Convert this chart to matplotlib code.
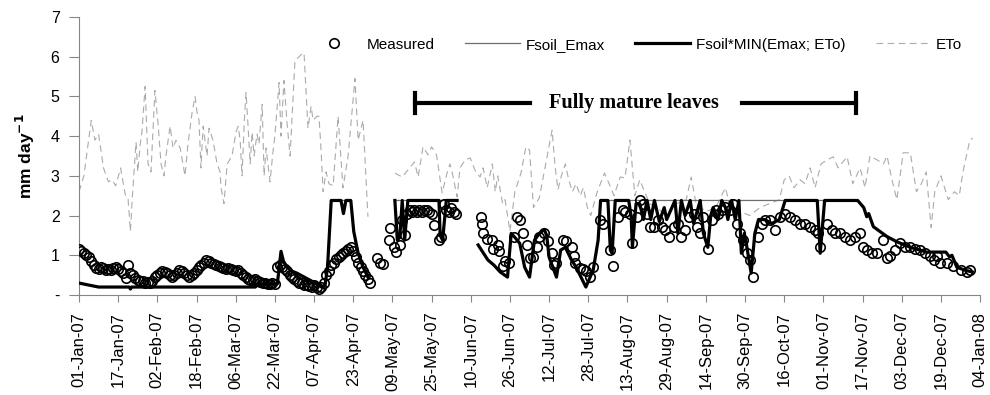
import numpy as np
import matplotlib
matplotlib.use('Agg')
import matplotlib.pyplot as plt
import matplotlib.dates as mdates
from matplotlib.ticker import FuncFormatter

plt.rcParams['font.family'] = ['Liberation Sans', 'DejaVu Sans']

nan = np.nan

# days counted from 01-Jan-07
eto_days = [0, 2, 5, 6.5, 8, 10, 12, 13.5, 15, 17, 17.5, 19, 20, 21, 21.7, 23.3, 24, 25, 25.7, 27,
            28.2, 29.4, 31, 32.3, 33.5, 34.7, 35.5, 37.2, 38.4, 39.6, 41.3, 43.3, 44.5, 46.2, 47.4, 48.2,
            49, 49.8, 50.7, 52.3, 53.1, 54.7, 56.4, 57.6, 58, 59.2, 60.5, 62.5, 64.1, 65, 65.8, 66.6,
            67.4, 68.2, 69, 69.9, 70.7, 71.5, 72.7, 73.5, 74.8, 75.6, 76.4, 78, 79.2, 80, 81.7, 82.5,
            83.7, 85, 86.2, 88.2, 90.7, 91.9, 93.5, 94.8, 95.6, 97.2, 98, 98.9, 99.7, 100.9, 102.1,
            103.8, 105.8, 107.8, 109.9, 112.7, 114, 116, 118, 123,
            129, 132, 135, 137, 138.5, 140.5, 142.5, 144, 146, 148.3, 150.3, 151.5, 152.7, 154.4,
            155.6, 157.7, 159.8, 162, 163.8, 165, 166.7, 168.8, 170, 171, 173, 174, 176, 178, 180.5,
            182.5, 184, 185.6, 188, 190.6, 193.2, 194.5, 195.6, 197, 198.6, 200, 201.5, 203, 204.7,
            206, 207.6, 209, 211.5, 214.6, 216.5, 218.5, 221, 223, 225, 227, 229, 231, 233, 236, 240,
            244, 248, 250, 252, 256, 260, 264, 266, 270, 274, 278, 282, 286, 288, 290, 292, 294.5,
            296.5, 298.6, 300.6, 303, 305.5, 308, 310, 313.7, 316, 319, 321, 323, 326, 328.5, 330,
            332, 334, 336.6, 339.5, 342, 344, 346, 348, 349.5, 352, 355, 357.5, 359.5, 361, 362.7,
            363.8, 365]
eto_vals = [2.6, 3.0, 4.4, 3.9, 4.05, 3.2, 2.85, 2.9, 2.75, 3.2, 3.0, 2.5, 2.45, 1.6, 2.4, 3.85, 3.1,
            3.8, 4.1, 5.25, 3.3, 3.1, 5.15, 4.3, 3.3, 3.0, 3.5, 4.25, 3.7, 3.9, 3.7, 3.0, 3.8, 4.6, 5.0,
            4.6, 4.4, 3.2, 4.25, 3.5, 4.2, 3.9, 3.3, 3.1, 2.7, 2.3, 3.3, 3.5, 4.1, 4.25, 3.9, 3.0, 4.25,
            5.1, 4.3, 3.3, 4.1, 3.5, 4.05, 3.8, 4.8, 3.0, 3.7, 2.85, 3.6, 4.0, 5.35, 4.0, 5.4, 4.3, 3.5,
            5.9, 6.05, 6.1, 4.2, 4.75, 4.4, 4.5, 4.5, 3.6, 2.6, 3.1, 2.8, 2.75, 4.5, 2.7, 3.5, 5.45,
            3.9, 4.4, 1.97, nan,
            3.07, 2.97, 3.2, 3.35, 2.97, 3.73, 3.53, 3.73, 3.53, 2.57, 3.07, 3.3, 3.0, 2.47,
            3.2, 3.4, 3.45, 3.1, 2.97, 3.2, 2.7, 3.3, 2.6, 3.0, 2.3, 2.4, 1.6, 2.6, 3.07,
            3.73, 3.65, 2.2, 2.45, 3.3, 4.15, 3.2, 2.65, 3.0, 3.3, 2.9, 2.6, 2.8, 2.5,
            2.7, 2.2, 2.0, 2.57, 3.07, 2.8, 2.5, 2.97, 2.95, 3.9, 2.5, 2.9, 2.6, 2.3, 2.2, 2.0,
            2.3, 2.4, 2.97, 2.3, 2.1, 2.2, 2.7, 2.2, 2.1, 2.0, 2.2, 2.3, 2.4, 2.9, 3.0, 2.7, 2.9,
            2.8, 3.2, 2.7, 3.3, 3.4, 3.48, 3.2, 3.48, 2.8, 3.2, 2.7, 3.5, 3.4, 3.3, 3.5,
            2.9, 2.4, 3.58, 3.58, 2.6, 2.8, 3.1, 1.7, 2.6, 3.0, 2.4, 2.6, 2.5, 3.1, 3.58,
            3.9, 3.95]

emax_days = [0, 4, 8, 72, 73, 81, 82.5, 83.5, 85, 87, 89, 92, 95, 98, 99, 100.5, 101.5, 103, 111,
             112.2, 114, 116, 118, 123, 129, 154.4, 159,
             163, 167, 169.5, 172, 175, 176.5, 178, 180, 182, 184, 186, 188, 190, 191, 192, 195,
             196.7, 198.6, 201, 203, 205, 207, 210, 212, 213, 318, 320.5, 321.7, 322.5, 324.4, 330,
             334, 339.5, 343.5, 346, 354, 355.5, 356.5, 358.5, 362, 364.8]
emax_vals = [0.3, 0.25, 0.2, 0.2, 0.27, 0.28, 1.1, 0.85, 0.7, 0.6, 0.55, 0.45, 0.35, 0.25, 0.2, 0.25,
             0.7, 2.38, 2.38, 1.6, 1.05, 0.7, 0.45, nan, 2.38, 2.38, nan,
             1.26, 0.88, 0.75, 0.58, 0.45, 1.55, 1.45, 1.3, 0.7, 0.45, 1.38, 1.55, 1.65, 1.5, 0.95,
             0.45, 1.13, 1.2, 0.9, 0.7, 0.45, 0.2, 0.63, 1.38, 2.38, 2.38, 2.2, 1.97, 2.05, 1.72,
             1.47, 1.34, 1.2, 1.13, 1.08, 1.08, 0.96, 1.0, 0.7, 0.62, 0.58]

fmin_days = [0, 4, 8, 20.5, 21, 21.5, 72, 73, 81, 82.5, 83.5, 85, 87, 89, 92, 95, 98, 99, 100.5,
             101.5, 103, 107, 108, 109, 111, 112.2, 114, 116, 118, 123,
             129, 130, 131, 132, 133, 134.3, 147, 147.5, 148.5, 150, 154.4, 159,
             163, 167, 169.5, 172, 175, 176.5, 178, 180, 182, 184, 186, 188, 190, 191, 192, 195,
             196.7, 198.6, 201, 203, 205, 207, 210, 212, 213, 216, 217, 217.7, 219, 224.5, 225.5,
             226, 227.5, 229, 230.5, 232, 233.5, 235, 237, 239, 240, 243.4, 244.6, 246, 247.5,
             249.6, 251, 253.7, 255, 256.8, 258, 259, 261, 262.5, 264, 265, 266.5, 268, 269.5,
             270.5, 271.7, 272.5, 274.5, 276, 277.5, 280, 283, 286, 288.4, 301.5, 302.7, 304.5,
             318, 320.5, 321.7, 322.5, 324.4, 330, 334, 339.5, 343.5, 346, 354, 355.5, 356.5,
             358.5, 362, 364.8]
fmin_vals = [0.3, 0.25, 0.2, 0.2, 0.15, 0.2, 0.2, 0.27, 0.28, 1.1, 0.85, 0.7, 0.6, 0.55, 0.45, 0.35,
             0.25, 0.2, 0.25, 0.7, 2.38, 2.38, 2.05, 2.38, 2.38, 1.6, 1.05, 0.7, 0.45, nan,
             2.38, 1.38, 1.45, 2.38, 1.38, 2.38, 2.38, 1.5, 1.38, 2.38, 2.38, nan,
             1.26, 0.88, 0.75, 0.58, 0.45, 1.55, 1.45, 1.3, 0.7, 0.45, 1.38, 1.55, 1.65, 1.5, 0.95,
             0.45, 1.13, 1.2, 0.9, 0.7, 0.45, 0.2, 0.63, 1.38, 2.38, 2.38, 1.13, 1.05, 2.38, 2.38,
             1.97, 1.2, 2.3, 2.3, 1.9, 2.38, 1.9, 2.38, 1.85, 2.2, 1.9, 2.38, 1.55, 2.38, 2.0,
             2.38, 1.8, 2.38, 1.55, 1.2, 2.0, 2.2, 1.9, 2.38, 2.2, 1.9, 2.38, 1.9, 2.38,
             1.05, 1.55, 1.3, 0.55, 1.55, 1.9, 1.9, 1.8, 1.9, 2.38, 2.38, 1.05, 2.38,
             2.38, 2.2, 1.97, 2.05, 1.72, 1.47, 1.34, 1.2, 1.13, 1.08, 1.08, 0.96, 1.0,
             0.7, 0.62, 0.58]

meas_days = list(range(0, 120)) + [
    121.7, 123, 124.2, 126.5, 127, 128.5, 129.5, 131, 132, 133, 134, 135, 136, 137, 138, 139, 140,
    141, 142, 143, 144, 145, 147, 148, 149, 150, 151, 152, 153, 154,
    164, 164.5, 165, 166.5, 168.5, 169, 171, 171.5, 173, 174, 175.5, 177.5, 179, 180, 181.5, 183,
    184, 185.5, 187, 188, 190, 191.5, 193, 194, 195, 197.7, 199, 201.5, 202, 202.5, 204.7, 206,
    207, 208.7, 210,
    212.8, 214, 217, 218, 220, 222, 223, 225, 226, 228, 229, 230.5, 232, 233, 235, 236.6, 238,
    239.5, 241, 242.8, 244.8, 246, 247.5, 249, 251, 252.3, 253.7, 255, 257, 258.6, 260, 261,
    262.6, 264, 266, 267, 268.6, 270, 271, 272.8, 274, 275.4, 277.5, 279, 280, 282.3, 284.3,
    286.4, 288.4, 290.4, 292.5, 294.5, 296.6, 298.6, 300.6, 302, 302.7, 305.5, 307.6, 308.8,
    310.9, 313, 315, 317, 319, 320.3, 321.7, 323.8, 326, 328.4, 330, 331.3, 333.3, 335.4, 337.4,
    339.5, 341.5, 343.5, 345.6, 347.6, 349, 350.5, 351.7, 354.6, 357, 360, 362.7, 364]
meas_vals = [
    1.15, 1.1, 1.05, 1.0, 0.95, 0.85, 0.75, 0.68, 0.65, 0.7, 0.68, 0.62, 0.65, 0.62, 0.68, 0.7,
    0.65, 0.6, 0.55, 0.42, 0.75, 0.55, 0.5, 0.42, 0.38, 0.35, 0.35, 0.3, 0.33, 0.3, 0.35, 0.45,
    0.5, 0.55, 0.6, 0.58, 0.55, 0.5, 0.45, 0.5, 0.55, 0.62, 0.6, 0.55, 0.5, 0.45, 0.5, 0.55, 0.62,
    0.7, 0.75, 0.8, 0.88, 0.85, 0.8, 0.78, 0.75, 0.72, 0.7, 0.68, 0.65, 0.68, 0.65, 0.62, 0.6,
    0.62, 0.55, 0.5, 0.45, 0.4, 0.38, 0.38, 0.4, 0.35, 0.33, 0.3, 0.3, 0.28, 0.28, 0.3, 0.28, 0.7,
    0.75, 0.7, 0.65, 0.6, 0.5, 0.45, 0.4, 0.35, 0.3, 0.3, 0.25, 0.25, 0.22, 0.2, 0.25, 0.2, 0.15,
    0.2, 0.3, 0.5, 0.6, 0.75, 0.8, 0.9, 0.95, 1.0, 1.05, 1.1, 1.15, 1.2, 1.1, 0.95, 0.8, 0.7, 0.6,
    0.5, 0.4, 0.3,
    0.92, 0.8, 0.78, 1.38, 1.68, 1.2, 1.08, 1.25, 1.9, 1.5, 2.05, 2.13, 2.1, 2.13, 2.1, 2.13, 2.1,
    2.13, 2.13, 2.1, 2.05, 1.76, 1.38, 1.45, 2.3, 2.15, 2.1, 2.2, 2.1, 2.05,
    1.97, 1.8, 1.55, 1.4, 1.38, 1.17, 1.25, 1.1, 0.72, 0.85, 0.8, 1.47, 1.97, 1.9, 1.55, 1.26,
    0.93, 0.95, 1.2, 1.47, 1.55, 1.35, 1.05, 0.75, 0.8, 1.38, 1.35, 1.2, 0.97, 0.8, 0.68, 0.65,
    0.6, 0.45, 0.7,
    1.89, 1.8, 1.13, 0.72, 1.97, 2.14, 2.1, 2.05, 1.3, 1.97, 2.38, 2.3, 2.05, 1.72, 1.72, 1.89,
    1.72, 1.64, 1.47, 1.72, 1.8, 1.47, 1.64, 1.97, 2.05, 1.72, 1.55, 1.97, 1.17, 1.89, 2.14, 2.05,
    2.14, 2.22, 2.14, 2.3, 1.8, 1.55, 1.38, 1.05, 0.88, 0.46, 1.47, 1.8, 1.89, 1.89, 1.64,
    1.97, 2.05, 1.97, 1.89, 1.8, 1.8, 1.72, 1.64, 1.55, 1.22, 1.8, 1.64, 1.55,
    1.55, 1.47, 1.38, 1.47, 1.55, 1.22, 1.13, 1.05, 1.05, 1.38, 0.93, 0.97, 1.13, 1.3, 1.22,
    1.22, 1.17, 1.13, 1.05, 0.97, 0.88, 0.97, 0.8, 0.8, 0.72, 0.63, 0.59, 0.63]

start = mdates.date2num(np.datetime64('2007-01-01'))


def to_x(days):
    return start + np.asarray(days, dtype=float)


fig = plt.figure(figsize=(9.9, 3.95), dpi=100)
ax = fig.add_axes([0.0798, 0.2532, 0.9102, 0.7038])

ax.plot(to_x(eto_days), eto_vals, color='#ababab', lw=0.8, ls=(0, (6, 4)), label='ETo', zorder=1)
ax.plot(to_x(emax_days), emax_vals, color='#6e6e6e', lw=0.9, label='Fsoil_Emax', zorder=2)
ax.plot(to_x(fmin_days), fmin_vals, color='black', lw=2.3, label='Fsoil*MIN(Emax; ETo)', zorder=3)
ax.plot(to_x(meas_days), meas_vals, ls='none', marker='o', ms=6.8, mfc='none', mec='black',
        mew=1.2, label='Measured', zorder=4)

# "Fully mature leaves" bar
bar_y = 4.84
ax.plot(to_x([137.3, 184.2]), [bar_y, bar_y], color='black', lw=3)
ax.plot(to_x([270.8, 317.4]), [bar_y, bar_y], color='black', lw=3)
ax.plot(to_x([137.3, 137.3]), [4.58, 5.08], color='black', lw=3)
ax.plot(to_x([317.4, 317.4]), [4.58, 5.08], color='black', lw=3)
ax.text(to_x(226.5), bar_y, 'Fully mature leaves', ha='center', va='center',
        family=['Liberation Serif', 'DejaVu Serif'], fontweight='bold', fontsize=14.6)

ax.set_xlim(to_x(0), to_x(368))
ax.set_ylim(0, 7)
ax.set_xticks(to_x(np.arange(0, 369, 16)))
ax.xaxis.set_major_formatter(mdates.DateFormatter('%d-%b-%y'))
ax.yaxis.set_major_formatter(FuncFormatter(lambda v, p: '-' if v == 0 else '%d' % v))
ax.set_yticks(range(0, 8))
plt.setp(ax.get_xticklabels(), rotation=90, fontsize=12)
plt.setp(ax.get_yticklabels(), fontsize=11.5)
ax.tick_params(axis='y', length=7, width=0.8, color='#868686', pad=7)
ax.tick_params(axis='x', length=5, width=0.8, color='#868686', pad=7)
for s in ['top', 'right']:
    ax.spines[s].set_visible(False)
for s in ['left', 'bottom']:
    ax.spines[s].set_color('#868686')
    ax.spines[s].set_linewidth(0.8)

ax.set_ylabel('mm day$^{\\mathbf{-1}}$', fontsize=12.5, fontweight='bold', labelpad=10)

h, l = ax.get_legend_handles_labels()
order = [3, 1, 2, 0]
ax.legend([h[i] for i in order], [l[i] for i in order], loc='center',
          bbox_to_anchor=(0.616, 0.9), ncol=4, frameon=False, fontsize=11,
          handlelength=3.6, columnspacing=2.0, handletextpad=0.35)

fig.savefig('out.png', dpi=100)
